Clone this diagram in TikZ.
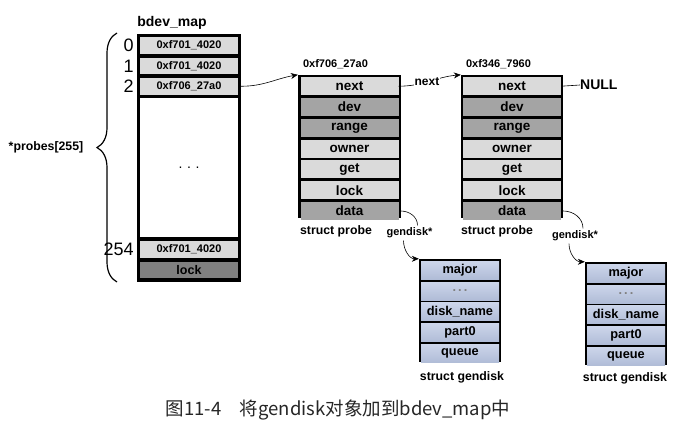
\documentclass[tikz,border=0pt]{standalone}
\usepackage{fontspec}
\setmainfont{Liberation Sans}
\newfontfamily\cjkfont{Noto Sans CJK SC}
\usepackage{tikz}
\usetikzlibrary{positioning,calc,arrows.meta,decorations.pathreplacing}
\definecolor{cLight}{RGB}{218,218,218}
\definecolor{cDark}{RGB}{164,164,164}
\definecolor{cLock}{RGB}{128,128,128}
\definecolor{cBlue}{RGB}{176,188,215}
\definecolor{cBlueTop}{RGB}{204,213,234}
\tikzset{FRAME/.style={rectangle,fill=black,inner sep=0pt}}
\tikzset{CELL/.style={rectangle,inner sep=0pt,minimum width=98pt,minimum height=18pt,font=\fontsize{13.5}{14}\selectfont\bfseries, anchor=north}}
\tikzset{LIGHT/.style={CELL,fill=cLight}}
\tikzset{DARK/.style={CELL,fill=cDark}}
\tikzset{GCELL/.style={CELL,top color=cBlueTop,bottom color=cBlue,minimum width=78pt,font=\fontsize{12.8}{14}\selectfont\bfseries}}
\tikzset{MAPCELL/.style={CELL,fill=cLight,minimum height=16.5pt,font=\fontsize{11}{12}\selectfont\bfseries}}
\tikzset{ADDR/.style={font=\fontsize{11}{12}\selectfont\bfseries}}
\tikzset{TITLE/.style={font=\fontsize{12.3}{13}\selectfont\bfseries}}
\tikzset{IDX/.style={anchor=east,inner sep=1pt,font=\fontsize{18}{19}\selectfont}}
\tikzset{ARROW/.style={semithick, -{Stealth[length=7pt,width=6pt]}}}

\begin{document}
\begin{tikzpicture}[x=1pt,y=1pt]
\useasboundingbox (0,0) rectangle (685,-434);

% bdev_map
\node[FRAME, minimum width=104pt, minimum height=248pt] (n_map) at (189,-157.5) {};
\node[font=\fontsize{14}{15}\selectfont\bfseries] (n_map_title) at (172,-23) {bdev\_map};
\node[MAPCELL] (n_map0) at (189,-37) {0xf701\_4020};
\node[MAPCELL, below=3.5pt of n_map0] (n_map1) {0xf701\_4020};
\node[MAPCELL, below=3.5pt of n_map1] (n_map2) {0xf706\_27a0};
\node[CELL, fill=white, minimum height=139pt, below=3.5pt of n_map2] (n_map_gap) {};
\node[font=\fontsize{14}{15}\selectfont] at (n_map_gap) {.\,\,.\,\,.};
\node[MAPCELL, below=3.5pt of n_map_gap] (n_map254) {0xf701\_4020};
\node[MAPCELL, fill=cLock, font=\fontsize{12.5}{13}\selectfont\bfseries, below=3.5pt of n_map254] (n_map_lock) {lock};

\node[IDX] (n_idx0) at ($(n_map0.west)+(-5,0)$) {0};
\node[IDX] (n_idx1) at ($(n_map1.west)+(-5,0)$) {1};
\node[IDX] (n_idx2) at ($(n_map2.west)+(-5,0)$) {2};
\node[IDX] (n_idx254) at ($(n_map254.west)+(-5,0)$) {254};

\coordinate (c_brace_bot) at (117,-282);
\coordinate (c_brace_top) at (117,-33);
\draw[line width=1.2pt, decorate, decoration={brace, amplitude=20pt, aspect=0.54}] (c_brace_bot) -- (c_brace_top);
\node[font=\fontsize{12.3}{13}\selectfont\bfseries] (n_probes) at (46,-147) {*probes[255]};

% first probe
\node[FRAME, minimum width=103pt, minimum height=143pt] (n_p1) at (349.5,-146.5) {};
\node[ADDR] (n_p1_addr) at (335.5,-64) {0xf706\_27a0};
\node[LIGHT] (n_p1_next) at (349.5,-77) {next};
\node[DARK, below=2.4pt of n_p1_next] (n_p1_dev) {dev};
\node[DARK, below=2.4pt of n_p1_dev] (n_p1_range) {range};
\node[LIGHT, below=2.4pt of n_p1_range] (n_p1_owner) {owner};
\node[LIGHT, below=2.4pt of n_p1_owner] (n_p1_get) {get};
\node[LIGHT, below=2.4pt of n_p1_get] (n_p1_lock) {lock};
\node[DARK, below=2.4pt of n_p1_lock] (n_p1_data) {data};
\node[TITLE] (n_p1_title) at (336,-231) {struct probe};

% second probe
\node[FRAME, minimum width=102pt, minimum height=143pt] (n_p2) at (512,-146.5) {};
\node[ADDR] (n_p2_addr) at (498.5,-64) {0xf346\_7960};
\node[LIGHT] (n_p2_next) at (512,-77) {next};
\node[DARK, below=2.4pt of n_p2_next] (n_p2_dev) {dev};
\node[DARK, below=2.4pt of n_p2_dev] (n_p2_range) {range};
\node[LIGHT, below=2.4pt of n_p2_range] (n_p2_owner) {owner};
\node[LIGHT, below=2.4pt of n_p2_owner] (n_p2_get) {get};
\node[LIGHT, below=2.4pt of n_p2_get] (n_p2_lock) {lock};
\node[DARK, below=2.4pt of n_p2_lock] (n_p2_data) {data};
\node[TITLE] (n_p2_title) at (497,-231) {struct probe};
\node[font=\fontsize{14}{15}\selectfont\bfseries, anchor=west, inner sep=0pt] (n_null) at (580,-85) {NULL};

% gendisks
\node[FRAME, minimum width=82pt, minimum height=103pt] (n_g1) at (460,-310.5) {};
\node[GCELL] (n_g1_major) at (460,-261) {major};
\node[GCELL, below=2.4pt of n_g1_major] (n_g1_dots) {\textcolor{cLock}{.\,.\,.}};
\node[GCELL, below=2.4pt of n_g1_dots] (n_g1_name) {disk\_name};
\node[GCELL, below=2.4pt of n_g1_name] (n_g1_part) {part0};
\node[GCELL, below=2.4pt of n_g1_part] (n_g1_queue) {queue};
\node[TITLE] (n_g1_title) at (462,-377) {struct gendisk};

\node[FRAME, minimum width=82pt, minimum height=103pt] (n_g2) at (626,-313.5) {};
\node[GCELL] (n_g2_major) at (626,-264) {major};
\node[GCELL, below=2.4pt of n_g2_major] (n_g2_dots) {\textcolor{cLock}{.\,.\,.}};
\node[GCELL, below=2.4pt of n_g2_dots] (n_g2_name) {disk\_name};
\node[GCELL, below=2.4pt of n_g2_name] (n_g2_part) {part0};
\node[GCELL, below=2.4pt of n_g2_part] (n_g2_queue) {queue};
\node[TITLE] (n_g2_title) at (625,-378) {struct gendisk};

% links
\draw[ARROW] ($(n_map2.east)+(3,0)$) to[out=0,in=190] (n_p1.north west);
\draw[ARROW] (n_p1_next.east) to[out=0,in=185] node[pos=0.45, fill=white, inner sep=1pt, font=\fontsize{12}{13}\selectfont\bfseries]{next} (n_p2.north west);
\draw[semithick] (n_p2_next.east) -- (n_null.west);

\node[ADDR] (n_gd1_lbl) at (409.5,-233) {gendisk*};
\draw[semithick] ($(n_p1_data.east)+(2,0)$) to[out=0,in=90] ($(n_gd1_lbl.north)+(8,-1)$);
\draw[ARROW] ($(n_gd1_lbl.south)+(-6,1)$) to[out=-90,in=180] (n_g1.north west);

\node[ADDR] (n_gd2_lbl) at (575,-236) {gendisk*};
\draw[semithick] ($(n_p2_data.east)+(2,0)$) to[out=0,in=90] ($(n_gd2_lbl.north)+(8,-1)$);
\draw[ARROW] ($(n_gd2_lbl.south)+(-6,1)$) to[out=-90,in=180] (n_g2.north west);

% caption
\node[font=\cjkfont\fontsize{18.5}{19}\selectfont, text=black!85] (n_caption) at (338,-410) {图11-4\quad 将gendisk对象加到bdev\_map中};

\end{tikzpicture}
\end{document}
